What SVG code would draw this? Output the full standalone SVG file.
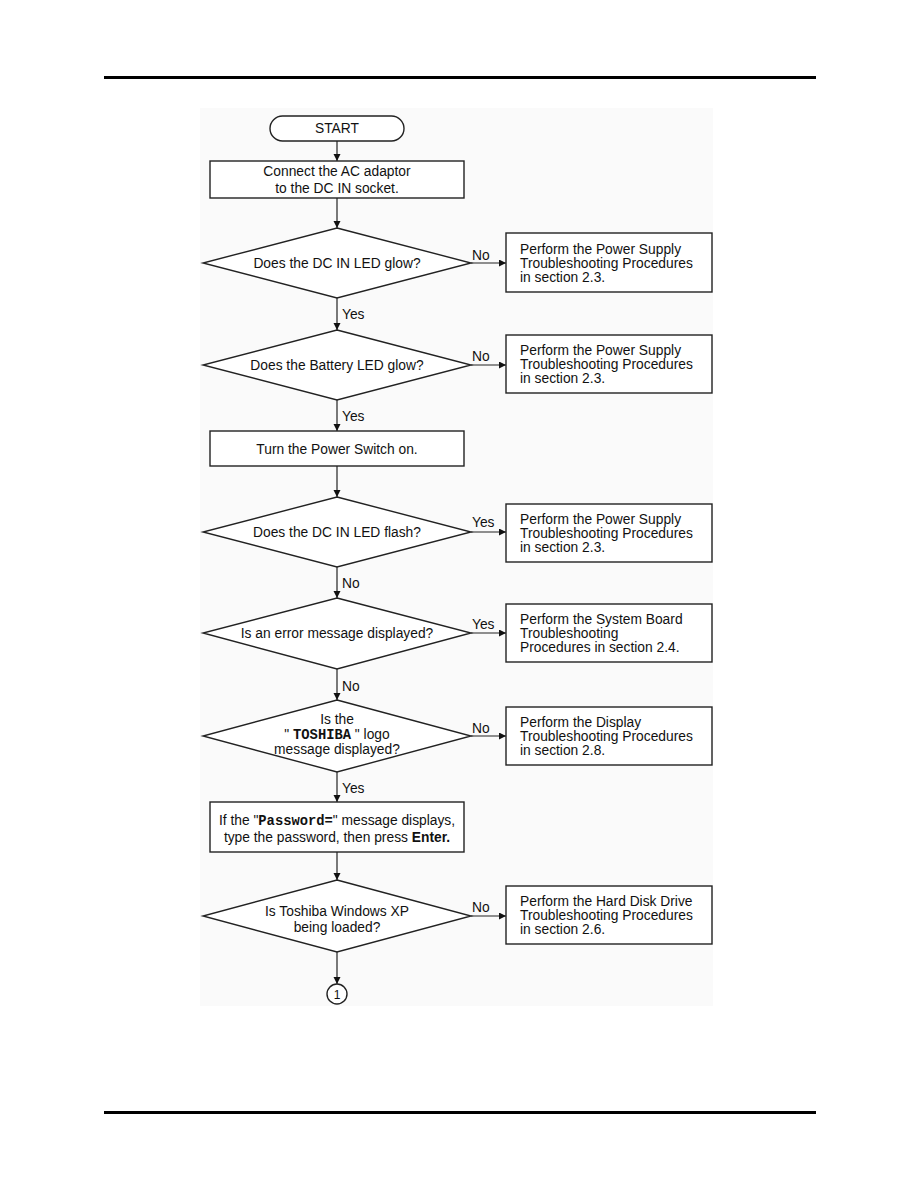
<svg xmlns="http://www.w3.org/2000/svg" width="918" height="1188" viewBox="0 0 918 1188">
<style>
.s{fill:#fff;stroke:#222;stroke-width:1.4}
.t{font-family:"Liberation Sans",Arial,sans-serif;font-size:13.8px;fill:#111}
.c{text-anchor:middle}
.m{font-family:"Liberation Mono","Courier New",monospace;font-weight:bold}
.b{font-weight:bold}
.l{stroke:#222;stroke-width:1.2;fill:none}
</style>
<defs>
<marker id="a" markerWidth="8" markerHeight="8" refX="7" refY="3.5" orient="auto" markerUnits="userSpaceOnUse"><path d="M0,0 L7,3.5 L0,7 Z" fill="#111"/></marker>
</defs>
<rect x="0" y="0" width="918" height="1188" fill="#fff"/>
<rect x="200" y="108" width="513" height="898" fill="#fafafa"/>
<rect x="104" y="76" width="712" height="3" fill="#000"/>
<rect x="104" y="1111" width="712" height="3" fill="#000"/>

<g id="connectors">
<path class="l" d="M337,141 V161" marker-end="url(#a)"/>
<path class="l" d="M337,198 V228" marker-end="url(#a)"/>
<path class="l" d="M337,298 V330" marker-end="url(#a)"/>
<path class="l" d="M337,400 V431" marker-end="url(#a)"/>
<path class="l" d="M337,466 V497" marker-end="url(#a)"/>
<path class="l" d="M337,567 V598" marker-end="url(#a)"/>
<path class="l" d="M337,669 V700" marker-end="url(#a)"/>
<path class="l" d="M337,772 V802" marker-end="url(#a)"/>
<path class="l" d="M337,852 V880" marker-end="url(#a)"/>
<path class="l" d="M337,952 V984" marker-end="url(#a)"/>
<path class="l" d="M471,263 H506" marker-end="url(#a)"/>
<path class="l" d="M471,365 H506" marker-end="url(#a)"/>
<path class="l" d="M471,532 H506" marker-end="url(#a)"/>
<path class="l" d="M471,633 H506" marker-end="url(#a)"/>
<path class="l" d="M471,736 H506" marker-end="url(#a)"/>
<path class="l" d="M471,916 H506" marker-end="url(#a)"/>
<text class="t" x="342" y="319">Yes</text>
<text class="t" x="342" y="421">Yes</text>
<text class="t" x="342" y="588">No</text>
<text class="t" x="342" y="691">No</text>
<text class="t" x="342" y="793">Yes</text>
<text class="t" x="472" y="260">No</text>
<text class="t" x="472" y="361">No</text>
<text class="t" x="472" y="527">Yes</text>
<text class="t" x="472" y="629">Yes</text>
<text class="t" x="472" y="733">No</text>
<text class="t" x="472" y="912">No</text>
</g>

<g id="start">
<rect class="s" x="270" y="116" width="134" height="25" rx="12.5"/>
<text class="t c" x="337" y="133">START</text>
</g>
<g id="connect">
<rect class="s" x="210" y="161" width="254" height="37"/>
<text class="t c" x="337" y="176">Connect the AC adaptor</text>
<text class="t c" x="337" y="193">to the DC IN socket.</text>
</g>
<g id="d1">
<polygon class="s" points="337,228 471,263 337,298 203,263"/>
<text class="t c" x="337" y="268">Does the DC IN LED glow?</text>
</g>
<g id="d2">
<polygon class="s" points="337,330 471,365 337,400 203,365"/>
<text class="t c" x="337" y="370">Does the Battery LED glow?</text>
</g>
<g id="power">
<rect class="s" x="210" y="431" width="254" height="35"/>
<text class="t c" x="337" y="454">Turn the Power Switch on.</text>
</g>
<g id="d3">
<polygon class="s" points="337,497 471,532 337,567 203,532"/>
<text class="t c" x="337" y="537">Does the DC IN LED flash?</text>
</g>
<g id="d4">
<polygon class="s" points="337,598 471,633 337,669 203,633"/>
<text class="t c" x="337" y="638">Is an error message displayed?</text>
</g>
<g id="d5">
<polygon class="s" points="337,700 471,736 337,772 203,736"/>
<text class="t c" x="337" y="724">Is the</text>
<text class="t c" x="337" y="739">" <tspan class="m">TOSHIBA</tspan> " logo</text>
<text class="t c" x="337" y="754">message displayed?</text>
</g>
<g id="password">
<rect class="s" x="210" y="802" width="254" height="50"/>
<text class="t c" x="337" y="825">If the "<tspan class="m">Password=</tspan>" message displays,</text>
<text class="t c" x="337" y="842">type the password, then press <tspan class="b">Enter.</tspan></text>
</g>
<g id="d6">
<polygon class="s" points="337,880 471,916 337,952 203,916"/>
<text class="t c" x="337" y="916">Is Toshiba Windows XP</text>
<text class="t c" x="337" y="932">being loaded?</text>
</g>
<g id="c1">
<circle class="s" cx="337" cy="994" r="10"/>
<text class="t c" x="337" y="999" style="font-size:12px">1</text>
</g>

<g id="r1">
<rect class="s" x="506" y="233" width="206" height="59"/>
<text class="t" x="520" y="254">Perform the Power Supply</text>
<text class="t" x="520" y="268">Troubleshooting Procedures</text>
<text class="t" x="520" y="282">in section 2.3.</text>
</g>
<g id="r2">
<rect class="s" x="506" y="335" width="206" height="58"/>
<text class="t" x="520" y="355">Perform the Power Supply</text>
<text class="t" x="520" y="369">Troubleshooting Procedures</text>
<text class="t" x="520" y="383">in section 2.3.</text>
</g>
<g id="r3">
<rect class="s" x="506" y="504" width="206" height="58"/>
<text class="t" x="520" y="524">Perform the Power Supply</text>
<text class="t" x="520" y="538">Troubleshooting Procedures</text>
<text class="t" x="520" y="552">in section 2.3.</text>
</g>
<g id="r4">
<rect class="s" x="506" y="604" width="206" height="58"/>
<text class="t" x="520" y="624">Perform the System Board</text>
<text class="t" x="520" y="638">Troubleshooting</text>
<text class="t" x="520" y="652">Procedures in section 2.4.</text>
</g>
<g id="r5">
<rect class="s" x="506" y="707" width="206" height="58"/>
<text class="t" x="520" y="727">Perform the Display</text>
<text class="t" x="520" y="741">Troubleshooting Procedures</text>
<text class="t" x="520" y="755">in section 2.8.</text>
</g>
<g id="r6">
<rect class="s" x="506" y="886" width="206" height="58"/>
<text class="t" x="520" y="906">Perform the Hard Disk Drive</text>
<text class="t" x="520" y="920">Troubleshooting Procedures</text>
<text class="t" x="520" y="934">in section 2.6.</text>
</g>
</svg>
